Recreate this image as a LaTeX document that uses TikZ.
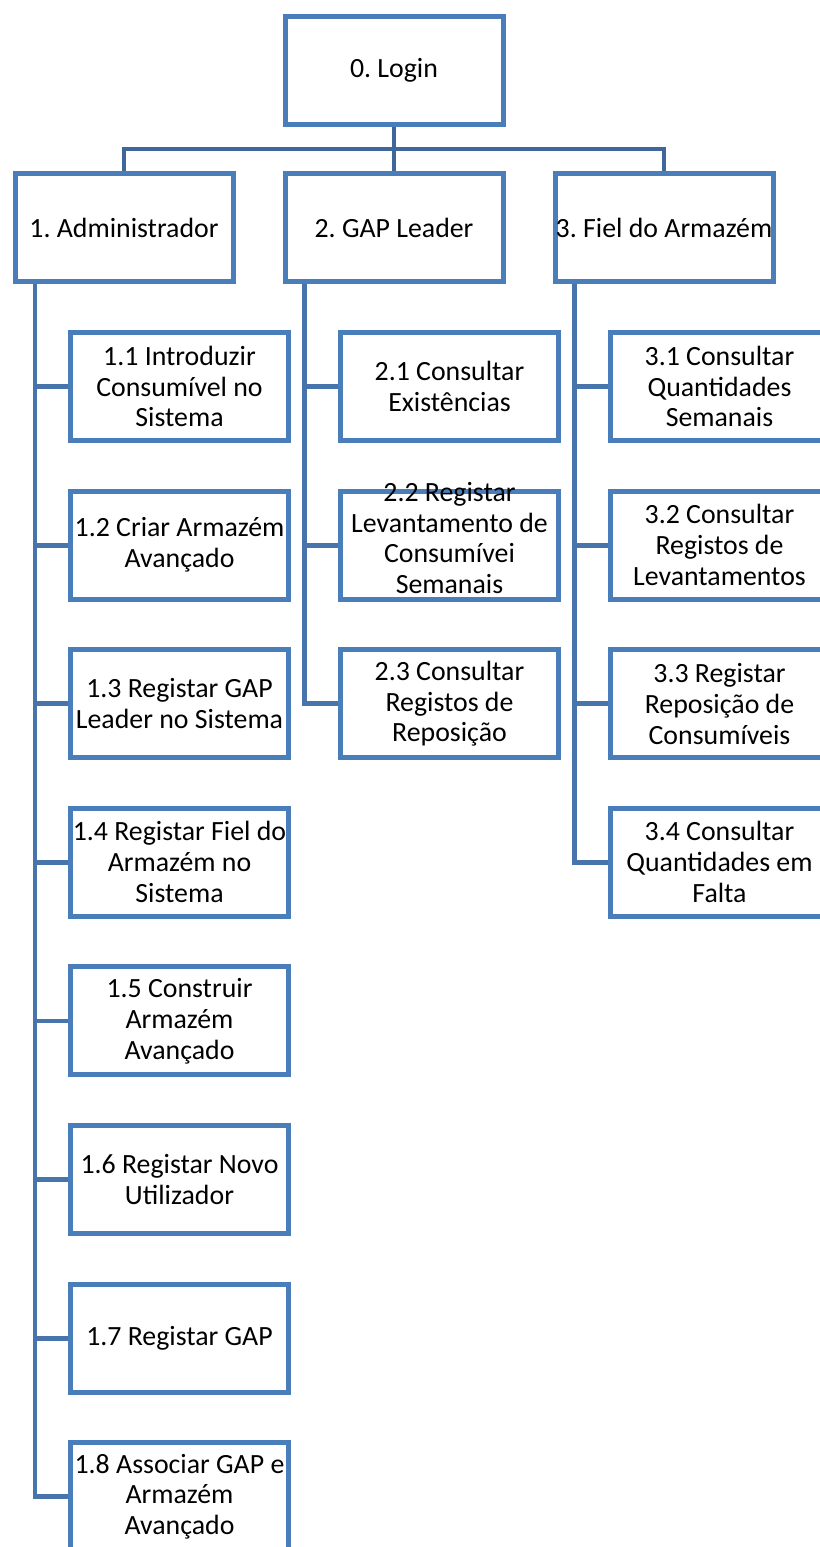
\documentclass[tikz,border=0pt]{standalone}
\usepackage{fontspec}
\setmainfont{Carlito}
\usetikzlibrary{positioning,calc}
\definecolor{boxblue}{HTML}{4A7EBB}
\definecolor{stemblue}{HTML}{4674AB}
\definecolor{barblue}{HTML}{3F679A}
\frenchspacing

\begin{document}
\begin{tikzpicture}[
    node distance=1.14cm,
    box/.style={rectangle, draw=boxblue, line width=0.125cm, fill=white, minimum width=5.45cm, minimum height=2.7cm, inner sep=0pt, align=center, font=\fontsize{19.8pt}{22pt}\selectfont},
    link/.style={draw=barblue, line width=0.12cm},
    stem/.style={draw=stemblue, line width=0.12cm}
]
    \useasboundingbox (0,0) rectangle (20.5,-38.675);

    % top of the chart
    \node[box] (login) at (9.85,-1.7625) {0. Login};
    \node[box, below=1.1cm of login] (gap) {2. GAP Leader};
    \node[box, left=1.175cm of gap] (admin) {1. Administrador};
    \node[box, right=1.175cm of gap] (fiel) {3. Fiel do Armazém};

    % administrador
    \node[box, below=1.15cm of admin, xshift=1.3875cm] (a1) {1.1 Introduzir\\Consumível no\\Sistema};
    \node[box, below=of a1] (a2) {1.2 Criar Armazém\\Avançado};
    \node[box, below=of a2] (a3) {1.3 Registar GAP\\Leader no Sistema};
    \node[box, below=of a3] (a4) {1.4 Registar Fiel do\\Armazém no\\Sistema};
    \node[box, below=of a4] (a5) {1.5 Construir\\Armazém\\Avançado};
    \node[box, below=of a5] (a6) {1.6 Registar Novo\\Utilizador};
    \node[box, below=of a6] (a7) {1.7 Registar GAP};
    \node[box, below=of a7] (a8) {1.8 Associar GAP e\\Armazém\\Avançado};

    % gap leader
    \node[box, below=1.15cm of gap, xshift=1.3875cm] (g1) {2.1 Consultar\\Existências};
    \node[box, below=of g1] (g2) {\raisebox{-5pt}{\smash{\begin{tabular}{@{}c@{}}2.2 Registar\\Levantamento de\\Consumívei\\Semanais\end{tabular}}}};
    \node[box, below=of g2] (g3) {2.3 Consultar\\Registos de\\Reposição};

    % fiel do armazem
    \node[box, below=1.15cm of fiel, xshift=1.3875cm] (f1) {3.1 Consultar\\Quantidades\\Semanais};
    \node[box, below=of f1] (f2) {3.2 Consultar\\Registos de\\Levantamentos};
    \node[box, below=of f2] (f3) {3.3 Registar\\Reposição de\\Consumíveis};
    \node[box, below=of f3] (f4) {3.4 Consultar\\Quantidades em\\Falta};

    \coordinate (bar) at ($(login.south)!0.5!(gap.north)$);
    \coordinate (adminstem) at ($(admin.south)+(-2.225,0)$);
    \coordinate (gapstem) at ($(gap.south)+(-2.24,0)$);
    \coordinate (fielstem) at ($(fiel.south)+(-2.24,0)$);

    \draw[link] (login.south) -- (gap.north);
    \draw[link] (admin.north) |- (bar) -| (fiel.north);

    \draw[stem] (adminstem) |- (a8.west);
    \draw[stem] (a1.west) -- (a1.west -| adminstem);
    \draw[stem] (a2.west) -- (a2.west -| adminstem);
    \draw[stem] (a3.west) -- (a3.west -| adminstem);
    \draw[stem] (a4.west) -- (a4.west -| adminstem);
    \draw[stem] (a5.west) -- (a5.west -| adminstem);
    \draw[stem] (a6.west) -- (a6.west -| adminstem);
    \draw[stem] (a7.west) -- (a7.west -| adminstem);

    \draw[stem] (gapstem) |- (g3.west);
    \draw[stem] (g1.west) -- (g1.west -| gapstem);
    \draw[stem] (g2.west) -- (g2.west -| gapstem);

    \draw[stem] (fielstem) |- (f4.west);
    \draw[stem] (f1.west) -- (f1.west -| fielstem);
    \draw[stem] (f2.west) -- (f2.west -| fielstem);
    \draw[stem] (f3.west) -- (f3.west -| fielstem);
\end{tikzpicture}
\end{document}
